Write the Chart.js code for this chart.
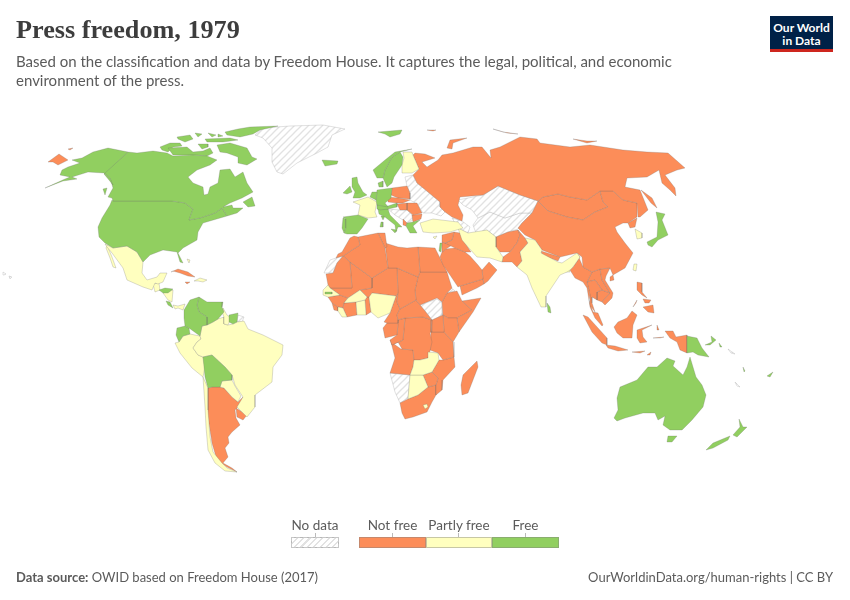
<!DOCTYPE html>
<html><head><meta charset="utf-8">
<script src="https://cdn.jsdelivr.net/npm/chart.js@4"></script>
<style>
html,body{margin:0;padding:0;background:#fff;width:850px;height:600px;overflow:hidden}
#wrap{position:relative;width:850px;height:600px;font-family:Lato,sans-serif;color:#5b5b5b}
canvas{position:absolute;left:0;top:0}
.t{position:absolute;white-space:nowrap}
.sw{position:absolute;top:537px;height:11px;box-sizing:border-box;border:1px solid rgba(130,130,130,.45)}
.tk{position:absolute;top:533px;height:4px;width:1px;background:#bbb}
</style></head><body>
<div id="wrap">
<canvas id="c" width="850" height="600"></canvas>
<div class="t" style="left:16px;top:15px;font:700 26.2px 'Liberation Serif',serif;color:#3d3d3d">Press freedom, 1979</div>
<div class="t" style="left:16px;top:52px;font-size:15px;line-height:19px;color:#5b5b5b">Based on the classification and data by Freedom House. It captures the legal, political, and economic<br>environment of the press.</div>
<div style="position:absolute;left:770px;top:16px;width:63px;height:36px;background:#002147;border-bottom:3px solid #ce261e;box-sizing:border-box;color:#fff;font:700 12px/13px Lato,sans-serif;text-align:center;padding-top:5px">Our World<br>in Data</div>
<div class="t" style="left:291px;top:517px;width:48px;text-align:center;font-size:13.5px">No data</div>
<div class="t" style="left:359px;top:517px;width:67px;text-align:center;font-size:13.5px">Not free</div>
<div class="t" style="left:426px;top:517px;width:66px;text-align:center;font-size:13.5px">Partly free</div>
<div class="t" style="left:492px;top:517px;width:67px;text-align:center;font-size:13.5px">Free</div>
<div class="tk" style="left:315px"></div><div class="tk" style="left:392px"></div><div class="tk" style="left:458px"></div><div class="tk" style="left:525px"></div>
<div class="sw" style="left:291px;width:48px;background:repeating-linear-gradient(135deg,#fff 0 3px,#e2e2e2 3px 4.5px)"></div>
<div class="sw" style="left:358.5px;width:67.5px;background:#fc8d59"></div>
<div class="sw" style="left:426px;width:66px;background:#ffffbf"></div>
<div class="sw" style="left:492px;width:67px;background:#91cf60"></div>
<div class="t" style="left:16px;top:569px;font-size:13px"><b>Data source:</b> OWID based on Freedom House (2017)</div>
<div class="t" style="right:17px;top:569px;font-size:13px">OurWorldinData.org/human-rights | CC BY</div>
</div>
<script>
const statusNames = ['No data','Not free','Partly free','Free'];
// Outlines are [x, y], in map units.
const alaska=[[128,152],[108,148],[93,152],[82,158],[72,160],[80,163],[68,167],[62,170],[60,175],[70,177],[65,179],[45,188],[63,181],[77,179],[72,177],[88,172],[104,173],[110,178],[113,185],[109,180],[104,174]];
const canada=[[128,152],[137,153],[153,151],[167,153],[173,156],[193,155],[207,156],[212,158],[217,160],[210,165],[197,170],[188,177],[193,183],[203,187],[204,195],[208,194],[210,187],[218,183],[220,170],[230,169],[235,177],[243,172],[247,183],[253,192],[242,198],[230,203],[223,207],[232,205],[233,208],[243,208],[237,213],[227,216],[222,208],[215,213],[200,218],[189,220],[193,209],[185,203],[172,201],[113,201],[112,198],[108,197],[113,188],[110,178],[104,173]];
const newfoundland=[[243,202],[252,197],[255,206],[248,207]];
const vancouver=[[103,189],[107,188],[105,195]];
const baffin=[[217,145],[230,143],[247,148],[252,157],[257,159],[247,165],[238,163],[238,157],[227,153],[220,152]];
const ellesmere=[[225,132],[238,129],[250,127],[278,126],[260,130],[253,134],[240,137],[227,135]];
const victoriaIsland=[[168,148],[187,147],[193,152],[203,151],[210,148],[213,153],[207,156],[193,155],[173,155]];
const banks=[[160,147],[170,143],[180,143],[182,146],[173,147],[168,152],[162,150]];
const arctic1=[[177,137],[190,135],[193,139],[185,142],[178,139]];
const arctic2=[[198,144],[208,144],[208,147],[202,149]];
const arctic3=[[205,139],[230,138],[238,140],[223,142],[207,142]];
const arctic5=[[195,133],[202,134],[198,137]];
const arctic6=[[208,133],[216,135],[212,137]];
const arctic7=[[218,134],[223,136],[218,137]];
const greenland=[[255,135],[263,128],[290,126],[323,125],[345,129],[332,135],[328,147],[317,153],[297,163],[283,174],[277,172],[272,162],[272,148],[263,138]];
const iceland=[[322,160],[338,161],[337,164],[325,166]];
const usa=[[113,201],[172,201],[185,203],[193,209],[189,220],[200,218],[215,213],[222,208],[227,216],[203,223],[198,232],[197,240],[183,248],[178,253],[183,263],[180,262],[177,252],[163,250],[150,255],[143,262],[137,252],[127,246],[113,248],[105,243],[99,237],[98,227],[102,218],[110,205],[112,200]];
const chukotka=[[48,162],[59,154],[68,160],[58,165],[53,162]];
const wrangel=[[68,149],[73,148],[70,150]];
const mexico=[[105,244],[113,248],[127,246],[137,252],[143,262],[142,273],[147,280],[157,277],[160,273],[167,273],[163,282],[158,284],[155,283],[152,290],[143,287],[127,280],[123,268],[112,253],[107,247]];
const baja=[[107,245],[112,257],[116,268],[113,267],[110,258],[106,248]];
const guatemala=[[153,284],[159,283],[160,290],[155,292]];
const honduras=[[159,290],[165,288],[173,289],[168,293],[163,293]];
const nicaragua=[[163,293],[173,290],[172,302],[168,300]];
const costaRica=[[166,301],[170,302],[173,308],[168,305]];
const panama=[[173,305],[178,306],[185,304],[183,310],[178,308],[175,309]];
const cuba=[[171,272],[178,269],[188,272],[195,277],[188,276],[180,273],[173,271]];
const jamaica=[[185,282],[190,282],[187,284]];
const hispaniola=[[194,281],[200,278],[207,280],[203,282],[198,281]];
const bahamas=[[187,259],[190,260],[189,263]];
const colombia=[[190,300],[199,297],[197,305],[199,312],[207,317],[207,325],[202,326],[200,336],[189,328],[185,326],[184,318],[184,310]];
const ecuador=[[177,328],[185,326],[189,328],[190,334],[183,336],[179,342],[176,335]];
const venezuela=[[199,297],[207,302],[223,302],[222,307],[224,312],[218,319],[213,322],[207,325],[207,317],[199,312],[197,305]];
const guyana=[[223,308],[227,315],[231,318],[228,325],[224,324],[224,317],[222,312]];
const suriname=[[229,315],[238,313],[237,322],[233,324],[229,322]];
const frenchGuiana=[[238,315],[244,317],[242,322],[237,322]];
const brazil=[[207,325],[213,322],[218,319],[224,317],[224,324],[228,325],[233,324],[237,322],[244,321],[248,329],[263,335],[283,345],[282,355],[273,367],[272,382],[255,395],[255,407],[247,417],[237,407],[243,397],[235,385],[232,375],[225,367],[212,355],[203,357],[198,355],[193,348],[197,342],[201,339],[200,336],[202,326]];
const peru=[[179,342],[183,336],[190,334],[200,336],[201,339],[197,342],[193,348],[198,355],[203,357],[205,367],[203,377],[192,368],[180,353],[175,343]];
const bolivia=[[203,357],[212,355],[225,367],[232,375],[232,380],[222,381],[220,387],[212,387],[208,388],[205,377]];
const paraguay=[[222,381],[232,380],[235,386],[241,396],[238,402],[232,397],[224,388],[220,387]];
const chile=[[203,377],[208,388],[208,410],[210,437],[213,452],[222,463],[227,468],[237,472],[225,471],[215,463],[208,450],[206,427],[205,407]];
const argentina=[[212,387],[220,387],[224,388],[232,397],[238,402],[243,397],[242,402],[235,410],[236,418],[240,425],[232,432],[228,437],[229,443],[225,448],[228,457],[223,463],[232,468],[237,472],[227,467],[217,460],[212,443],[208,417],[208,388]];
const uruguay=[[236,408],[247,415],[243,420],[237,417]];
const norway=[[373,170],[385,160],[395,152],[412,149],[400,152],[392,157],[385,170],[383,178],[377,178]];
const sweden=[[385,170],[392,157],[400,152],[403,157],[402,165],[394,177],[392,183],[387,187],[383,178]];
const finland=[[403,152],[412,152],[413,155],[419,169],[412,173],[402,173],[402,165],[404,158]];
const denmark=[[378,183],[383,181],[383,187],[379,187]];
const britain=[[352,178],[357,177],[358,183],[363,192],[367,195],[360,198],[353,198],[355,192],[352,187]];
const ireland=[[343,193],[350,186],[352,192],[347,194]];
const france=[[368,197],[377,202],[375,212],[377,217],[368,218],[358,215],[360,205],[353,202]];
const benelux=[[372,192],[377,192],[376,200],[370,197]];
const germany=[[377,190],[392,188],[391,198],[385,203],[388,207],[377,205],[376,200]];
const alpine=[[377,205],[388,206],[397,203],[397,207],[388,209],[380,210],[377,209]];
const czechoslovakia=[[388,197],[398,198],[410,200],[403,203],[397,203],[388,202]];
const poland=[[392,188],[407,186],[410,193],[410,199],[398,198],[391,195]];
const hungary=[[397,204],[407,203],[407,210],[400,210]];
const romania=[[407,203],[417,203],[422,213],[413,215],[407,210]];
const bulgaria=[[412,215],[422,214],[421,219],[413,222]];
const yugoslavia=[[388,209],[400,210],[407,210],[412,215],[413,220],[407,223],[403,220],[395,215]];
const albania=[[403,219],[407,223],[406,226],[403,225]];
const greece=[[407,223],[413,222],[420,220],[413,226],[417,233],[410,233],[406,226]];
const italy=[[378,209],[388,209],[390,215],[397,222],[402,227],[398,227],[396,232],[395,225],[385,217],[379,214]];
const sardinia=[[381,222],[383,222],[383,227],[380,227]];
const corsica=[[381,216],[385,216],[383,220]];
const sicily=[[391,229],[397,230],[395,233]];
const spain=[[343,217],[358,215],[368,219],[362,228],[357,234],[347,234],[344,233],[346,228],[346,219]];
const portugal=[[343,218],[346,219],[346,228],[344,233],[342,228]];
const svalbard=[[378,132],[402,130],[400,134],[390,137],[385,134]];
const franzJosef=[[427,130],[436,130],[433,131]];
const turkey=[[420,223],[433,219],[458,222],[463,228],[450,232],[433,233],[423,232]];
const cyprus=[[433,237],[437,236],[435,239]];
const russia=[[415,153],[425,154],[435,158],[422,162],[427,167],[438,160],[442,155],[453,153],[473,147],[482,147],[491,158],[490,150],[500,147],[520,137],[537,139],[540,143],[570,147],[590,145],[623,150],[647,152],[668,153],[685,168],[677,170],[665,175],[675,188],[676,196],[670,190],[662,183],[659,170],[647,177],[627,178],[625,187],[640,190],[644,200],[648,210],[640,217],[638,217],[637,203],[623,200],[613,191],[600,191],[587,200],[570,197],[558,194],[543,197],[538,201],[520,195],[498,186],[483,195],[460,197],[458,205],[463,215],[462,221],[452,217],[445,212],[440,207],[440,202],[428,192],[417,183],[413,175],[419,169],[413,155]];
const novayaZemlya=[[447,148],[450,140],[467,138],[453,143],[452,149]];
const severnaya=[[493,129],[503,132],[518,134],[507,133]];
const newSiberian=[[573,139],[587,141],[597,141],[587,143]];
const sakhalin=[[641,190],[652,198],[657,208],[651,203]];
const china=[[538,201],[532,213],[522,223],[518,228],[525,235],[535,240],[542,250],[560,257],[577,253],[582,257],[583,267],[592,272],[600,269],[610,268],[613,275],[625,268],[633,253],[625,243],[617,232],[615,227],[623,223],[628,223],[637,217],[637,203],[623,200],[613,191],[600,191],[603,202],[608,207],[595,212],[583,220],[567,217],[548,211]];
const mongolia=[[538,201],[543,197],[558,194],[570,197],[587,200],[600,191],[603,202],[608,207],[595,212],[583,220],[567,217],[548,211]];
const northKorea=[[628,223],[637,218],[635,227],[630,228]];
const southKorea=[[635,229],[642,233],[642,238],[637,239]];
const japan=[[647,242],[657,237],[658,222],[656,212],[665,214],[662,220],[668,235],[658,240],[652,247],[648,245]];
const taiwan=[[634,264],[637,264],[636,271],[633,270]];
const sriLanka=[[547,303],[550,307],[551,313],[548,312]];
const india=[[525,238],[535,240],[542,250],[541,253],[558,262],[562,263],[577,253],[580,257],[573,267],[570,270],[567,272],[560,275],[546,296],[546,307],[541,307],[532,288],[527,275],[517,267],[522,261],[520,252],[528,243]];
const nepal=[[541,251],[560,257],[558,261],[542,255]];
const bangladesh=[[562,265],[568,265],[570,272],[565,272]];
const pakistan=[[518,230],[525,238],[528,243],[520,252],[522,261],[517,267],[512,262],[502,262],[503,257],[510,252],[517,243],[520,235]];
const afghanistan=[[496,237],[508,232],[518,230],[520,235],[517,243],[510,252],[500,252],[496,247]];
const iran=[[458,228],[468,233],[487,230],[496,237],[496,247],[503,257],[502,262],[490,258],[477,257],[468,247],[462,240]];
const kazakhstan=[[458,200],[483,195],[498,186],[520,195],[538,201],[532,213],[520,213],[505,218],[490,212],[478,218],[472,210],[463,205]];
const centralAsia=[[478,218],[490,212],[505,218],[520,213],[532,213],[522,223],[518,229],[508,232],[496,237],[487,230],[476,233],[473,225]];
const caucasus=[[452,218],[462,221],[470,227],[468,233],[458,228]];
const westernUssr=[[405,177],[413,175],[417,183],[428,192],[440,202],[440,207],[445,212],[441,216],[432,213],[423,213],[417,204],[410,200],[410,193],[407,186]];
const israel=[[440,243],[442,243],[441,252],[439,251]];
const syria=[[442,235],[454,232],[452,240],[445,243],[442,242]];
const iraq=[[454,232],[460,233],[465,243],[471,252],[465,252],[455,248],[445,243],[452,240]];
const jordan=[[442,242],[445,243],[452,245],[446,249],[442,252]];
const saudiArabia=[[442,252],[446,249],[455,248],[465,252],[470,256],[478,265],[482,270],[483,279],[460,286],[458,287],[450,275],[443,265],[440,257]];
const oman=[[483,279],[482,270],[489,262],[497,270],[488,281],[484,284]];
const yemen=[[460,286],[483,279],[484,284],[477,288],[462,295]];
const morocco=[[342,252],[346,245],[350,238],[354,236],[358,237],[360,245],[352,250],[343,256],[336,258],[338,254]];
const westernSahara=[[324,273],[330,260],[336,258],[343,256],[337,263],[333,273]];
const mauritania=[[326,274],[333,273],[337,263],[343,256],[350,262],[352,288],[330,288],[328,285]];
const algeria=[[343,256],[352,250],[360,245],[358,237],[378,233],[385,248],[388,268],[372,278],[350,262]];
const tunisia=[[378,233],[385,233],[387,247],[385,248]];
const libya=[[385,243],[398,247],[407,248],[418,247],[420,272],[418,277],[397,268],[388,268]];
const egypt=[[418,247],[435,248],[447,272],[420,272]];
const mali=[[350,262],[372,278],[372,288],[360,290],[348,298],[340,295],[330,288],[352,288]];
const niger=[[372,278],[388,268],[397,268],[398,293],[396,296],[372,293],[370,297],[367,297],[360,290],[372,288]];
const nigeria=[[369,297],[372,293],[396,296],[390,313],[378,318],[371,312]];
const upperVolta=[[360,290],[367,297],[365,300],[356,302],[344,303],[348,298]];
const ghana=[[356,302],[365,300],[366,315],[357,315]];
const ivoryCoast=[[344,303],[356,302],[357,315],[347,317],[343,308]];
const togoBenin=[[365,300],[367,297],[369,297],[371,312],[366,315]];
const liberia=[[338,307],[343,308],[347,317],[342,317],[338,311]];
const guinea=[[328,297],[340,295],[348,298],[344,303],[343,308],[338,307],[332,303]];
const sierraLeone=[[332,303],[338,307],[338,311],[334,310]];
const senegal=[[323,290],[328,285],[330,288],[340,295],[328,297],[323,295]];
const gambia=[[325,292],[332,292],[332,294],[325,294]];
const chad=[[397,268],[418,277],[415,290],[416,300],[400,309],[397,302],[398,293]];
const sudan=[[420,272],[447,272],[452,288],[447,293],[442,302],[437,298],[420,305],[416,300],[415,290],[418,277]];
const southSudan=[[420,305],[437,299],[442,303],[443,315],[432,320],[425,311]];
const centralAfrica=[[400,309],[416,300],[420,305],[425,311],[432,320],[423,317],[405,318],[398,320],[397,315]];
const cameroon=[[390,313],[396,296],[398,293],[397,302],[400,309],[397,315],[398,320],[398,323],[387,323],[384,322]];
const gabon=[[383,328],[387,323],[398,323],[397,335],[385,338]];
const congo=[[398,320],[405,318],[403,340],[392,345],[390,340],[397,335],[398,323]];
const zaire=[[405,318],[423,317],[432,320],[431,332],[430,333],[432,342],[430,351],[428,358],[420,360],[414,360],[413,350],[402,349],[398,342],[390,340],[392,345],[403,340]];
const uganda=[[432,320],[443,315],[444,332],[431,332]];
const kenya=[[443,315],[448,318],[457,318],[459,332],[453,342],[444,332]];
const somalia=[[481,298],[473,312],[459,332],[457,318],[472,310],[462,301]];
const ethiopia=[[447,293],[457,291],[462,301],[472,310],[457,318],[448,318],[443,315],[442,302]];
const eritrea=[[448,285],[455,291],[447,293]];
const tanzania=[[431,332],[444,332],[453,342],[454,357],[443,360],[438,353],[430,350]];
const angola=[[391,342],[401,349],[413,350],[414,360],[413,367],[410,375],[390,373],[395,358]];
const zambia=[[414,360],[420,360],[428,358],[428,352],[438,353],[439,360],[432,372],[423,375],[410,375],[413,367]];
const namibia=[[390,373],[410,375],[408,398],[400,403],[395,392]];
const botswana=[[410,375],[423,375],[428,387],[418,395],[408,399]];
const rhodesia=[[423,375],[432,372],[438,378],[436,385],[428,387]];
const mozambique=[[443,360],[454,357],[455,367],[443,380],[442,390],[436,395],[436,385],[438,378],[432,372],[439,360]];
const southAfrica=[[400,403],[408,399],[418,395],[428,387],[436,385],[436,395],[432,402],[427,412],[413,417],[405,419],[402,413]];
const lesotho=[[423,405],[427,404],[428,407],[425,409]];
const madagascar=[[477,361],[478,367],[468,393],[462,395],[461,385],[463,375]];
const burma=[[577,253],[583,267],[592,272],[587,282],[590,295],[589,300],[587,288],[583,282],[575,278],[570,270],[573,267],[580,257]];
const thailand=[[587,282],[595,280],[602,290],[597,292],[597,300],[592,297],[592,303],[595,312],[590,305],[590,295]];
const vietnam=[[600,269],[610,268],[606,276],[605,280],[613,293],[612,298],[605,305],[602,302],[610,293],[602,280]];
const laos=[[592,272],[600,269],[602,280],[610,293],[602,290],[595,280],[587,282]];
const cambodia=[[597,292],[602,290],[610,293],[602,302],[597,300]];
const malaya=[[589,300],[593,312],[598,313],[603,325],[602,326],[595,318],[590,307]];
const hainan=[[610,277],[613,275],[614,280],[610,281]];
const luzon=[[637,282],[642,283],[642,292],[647,298],[642,295],[637,290]];
const mindanao=[[643,307],[653,305],[654,313],[648,312]];
const visayas=[[643,299],[651,300],[649,303],[645,303]];
const palawan=[[633,307],[637,300],[636,303]];
const sumatra=[[583,315],[588,317],[598,328],[607,338],[607,345],[602,343],[592,332]];
const java=[[606,345],[615,346],[628,350],[618,351],[608,348]];
const borneo=[[614,327],[618,322],[627,318],[632,311],[637,315],[633,325],[632,338],[623,338],[617,333]];
const sulawesi=[[637,330],[652,325],[642,330],[643,337],[647,342],[640,343],[637,338]];
const westNewGuinea=[[665,331],[673,331],[676,337],[687,335],[687,353],[680,350],[677,342],[670,338]];
const papuaNewGuinea=[[687,336],[697,338],[702,348],[709,357],[698,355],[693,352],[687,353]];
const newBritain=[[705,345],[712,342],[711,336],[716,340],[710,345]];
const bougainville=[[719,343],[722,347],[720,347]];
const sumbawa=[[632,352],[645,351],[640,353]];
const timor=[[647,355],[651,352],[650,355]];
const halmahera=[[657,325],[659,330],[657,330]];
const seram=[[653,338],[664,337],[660,338]];
const australia=[[667,358],[675,361],[673,366],[683,375],[687,367],[690,357],[693,367],[696,377],[702,385],[706,395],[703,407],[692,420],[682,430],[670,430],[663,425],[665,416],[658,420],[655,413],[643,413],[625,418],[617,421],[614,418],[618,410],[617,398],[620,387],[637,380],[648,367],[657,367]];
const tasmania=[[668,436],[677,436],[672,442],[667,442]];
const nzNorth=[[739,419],[743,427],[747,427],[737,437],[733,435],[740,427]];
const nzSouth=[[730,436],[728,440],[713,448],[706,450],[713,443]];
const fiji=[[767,376],[773,372],[770,377]];
const newCaledonia=[[743,367],[745,371],[744,372]];
const hawaii=[[3,272],[6,274],[4,275]];
const hawaii2=[[9,276],[12,277],[10,279]];
const vanuatu=[[735,382],[740,387],[737,386]];
const solomons=[[728,349],[735,354],[731,353]];

const noDataRegions=[greenland,frenchGuiana,yugoslavia,kazakhstan,centralAsia,caucasus,westernUssr,westernSahara,southSudan,eritrea,namibia,hawaii,hawaii2,vanuatu,solomons];
const notFreeRegions=[chukotka,wrangel,cuba,jamaica,argentina,uruguay,czechoslovakia,poland,hungary,romania,bulgaria,albania,franzJosef,russia,novayaZemlya,severnaya,newSiberian,sakhalin,china,mongolia,northKorea,nepal,pakistan,afghanistan,syria,iraq,jordan,saudiArabia,oman,yemen,morocco,mauritania,algeria,tunisia,libya,egypt,mali,niger,ivoryCoast,togoBenin,guinea,sierraLeone,chad,sudan,centralAfrica,cameroon,gabon,congo,zaire,uganda,kenya,somalia,ethiopia,tanzania,angola,rhodesia,mozambique,southAfrica,madagascar,burma,thailand,vietnam,laos,cambodia,malaya,hainan,luzon,mindanao,visayas,palawan,sumatra,java,borneo,sulawesi,westNewGuinea,sumbawa,timor,halmahera,seram];
const partlyFreeRegions=[mexico,baja,guatemala,nicaragua,panama,hispaniola,bahamas,guyana,brazil,peru,paraguay,chile,finland,france,turkey,cyprus,southKorea,taiwan,india,bangladesh,iran,nigeria,upperVolta,ghana,liberia,senegal,zambia,botswana,lesotho];
const freeRegions=[alaska,canada,newfoundland,vancouver,baffin,ellesmere,victoriaIsland,banks,arctic1,arctic2,arctic3,arctic5,arctic6,arctic7,iceland,usa,honduras,costaRica,colombia,ecuador,venezuela,suriname,bolivia,norway,sweden,denmark,britain,ireland,benelux,germany,alpine,greece,italy,sardinia,corsica,sicily,spain,portugal,svalbard,japan,sriLanka,israel,gambia,papuaNewGuinea,newBritain,bougainville,australia,tasmania,nzNorth,nzSouth,fiji,newCaledonia];

const statusColors={'Not free':'#fc8d59','Partly free':'#ffffbf','Free':'#91cf60'};

function hatch(){
  const s=document.createElement('canvas');s.width=7;s.height=7;
  const g=s.getContext('2d');g.fillStyle='#fff';g.fillRect(0,0,7,7);
  g.strokeStyle='#e2e2e2';g.lineWidth=1.3;
  [[-1,8,8,-1],[-8,8,8,-8],[6,8,8,6]].forEach(([a,b,c,d])=>{g.beginPath();g.moveTo(a,b);g.lineTo(c,d);g.stroke();});
  return document.getElementById('c').getContext('2d').createPattern(s,'repeat');
}
const pattern=hatch();
const toDataset=(outline,status)=>{
  const pts=outline.concat([outline[0]]).map(([x,y])=>({x,y}));
  return {label:status,data:pts,showLine:true,pointRadius:0,pointHitRadius:0,tension:0,fill:false,
    backgroundColor:status==='No data'?pattern:statusColors[status],
    borderColor:status==='No data'?'rgba(175,175,175,.7)':'rgba(105,105,105,.45)',borderWidth:.55};
};
const datasets=[
  ...freeRegions.map(o=>toDataset(o,'Free')),
  ...partlyFreeRegions.map(o=>toDataset(o,'Partly free')),
  ...notFreeRegions.map(o=>toDataset(o,'Not free')),
  ...noDataRegions.map(o=>toDataset(o,'No data')),
];
const polygonFill={id:'polygonFill',beforeDatasetDraw(chart,args){
  const ctx=chart.ctx,pts=args.meta.data,ds=chart.data.datasets[args.index];
  ctx.save();ctx.beginPath();
  pts.forEach((p,i)=>i?ctx.lineTo(p.x,p.y):ctx.moveTo(p.x,p.y));
  ctx.closePath();ctx.fillStyle=ds.backgroundColor;ctx.fill();ctx.restore();
}};
new Chart(document.getElementById('c'),{type:'scatter',data:{datasets},plugins:[polygonFill],options:{
  responsive:false,animation:false,layout:{padding:0},events:[],
  plugins:{legend:{display:false},tooltip:{enabled:false},title:{display:false}},
  scales:{x:{type:'linear',min:0,max:850,display:false},y:{type:'linear',min:0,max:600,reverse:true,display:false}}
}});
</script>
</body></html>
